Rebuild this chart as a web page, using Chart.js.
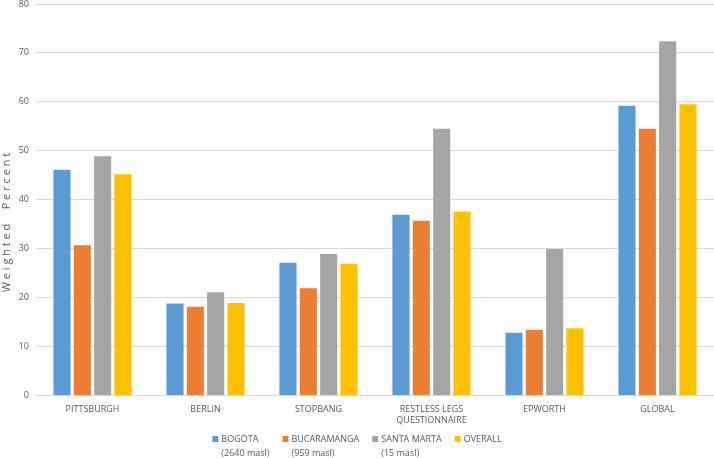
<!DOCTYPE html>
<html>
<head>
<meta charset="utf-8">
<script src="https://cdn.jsdelivr.net/npm/chart.js@4/dist/chart.umd.min.js"></script>
<style>
  html, body { margin: 0; padding: 0; background: #fff; }
  #wrap { width: 714px; height: 458px; }
</style>
</head>
<body>
<div id="wrap"><canvas id="myChart"></canvas></div>
<script>
const categories = [
  "PITTSBURGH",
  "BERLIN",
  "STOPBANG",
  ["RESTLESS LEGS", "QUESTIONNAIRE"],
  "EPWORTH",
  "GLOBAL"
];
const seriesNames = ["BOGOTA", "BUCARAMANGA", "SANTA MARTA", "OVERALL"];
const seriesNotes = ["(2640 masl)", "(959 masl)", "(15 masl)", ""];
const seriesColors = ["#5B9BD5", "#ED7D31", "#A5A5A5", "#FFC000"];

const bogota = [46.1, 18.8, 27.1, 36.9, 12.8, 59.2];
const bucaramanga = [30.7, 18.1, 21.9, 35.7, 13.4, 54.5];
const santaMarta = [48.9, 21.1, 28.9, 54.5, 29.9, 72.4];
const overall = [45.2, 18.9, 26.9, 37.6, 13.7, 59.5];

const yTicks = [0, 10, 20, 30, 40, 50, 60, 70, 80];

const seriesValues = [bogota, bucaramanga, santaMarta, overall];
const textColor = "#595959";
const fontFamily = "'Open Sans', sans-serif";

// legend with two-line labels, drawn under the axis labels
const twoLineLegend = {
  id: "twoLineLegend",
  afterDraw(chart) {
    const ctx = chart.ctx;
    ctx.save();
    ctx.font = "9px " + fontFamily;
    ctx.textBaseline = "middle";
    ctx.textAlign = "left";
    const box = 6, pad = 3, gap = 13;
    const widths = seriesNames.map((n, i) =>
      box + pad + Math.max(ctx.measureText(n).width, ctx.measureText(seriesNotes[i]).width));
    const total = widths.reduce((a, b) => a + b, 0) + gap * (widths.length - 1);
    let x = (chart.width - total) / 2;
    const y = chart.height - 19;
    chart.data.datasets.forEach((ds, i) => {
      ctx.fillStyle = ds.backgroundColor;
      ctx.fillRect(x, y - box / 2, box, box);
      ctx.fillStyle = textColor;
      ctx.fillText(seriesNames[i], x + box + pad, y);
      if (seriesNotes[i]) ctx.fillText(seriesNotes[i], x + box + pad, y + 14);
      x += widths[i] + gap;
    });
    ctx.restore();
  }
};

new Chart("myChart", {
  type: "bar",
  data: {
    labels: categories,
    datasets: seriesNames.map((name, i) => ({
      label: name + " " + seriesNotes[i],
      data: seriesValues[i],
      backgroundColor: seriesColors[i],
      borderWidth: 0,
      categoryPercentage: 0.72,
      barPercentage: 0.84
    }))
  },
  options: {
    responsive: true,
    maintainAspectRatio: false,
    animation: false,
    layout: { padding: { top: 0, right: 0, bottom: 23, left: 0 } },
    plugins: {
      legend: { display: false },
      tooltip: { enabled: false }
    },
    scales: {
      x: {
        grid: { display: false, drawTicks: false },
        border: { display: true, color: "#d9d9d9" },
        ticks: {
          color: textColor,
          font: { family: fontFamily, size: 9 },
          padding: 9,
          maxRotation: 0,
          autoSkip: false
        }
      },
      y: {
        min: 0,
        max: 80,
        afterBuildTicks(axis) {
          axis.ticks = yTicks.map(v => ({ value: v }));
        },
        afterFit(axis) {
          axis.width = 36;
          axis.paddingTop = 4;
          axis.paddingBottom = 0;
        },
        grid: { color: "#d9d9d9", drawTicks: false },
        border: { display: false },
        ticks: {
          color: textColor,
          font: { family: fontFamily, size: 9 },
          padding: 7
        },
        title: {
          display: true,
          text: "W e i g h t e d     P e r c e n t                ",
          color: textColor,
          font: { family: fontFamily, size: 11 },
          padding: 0
        }
      }
    }
  },
  plugins: [twoLineLegend]
});
</script>
</body>
</html>
